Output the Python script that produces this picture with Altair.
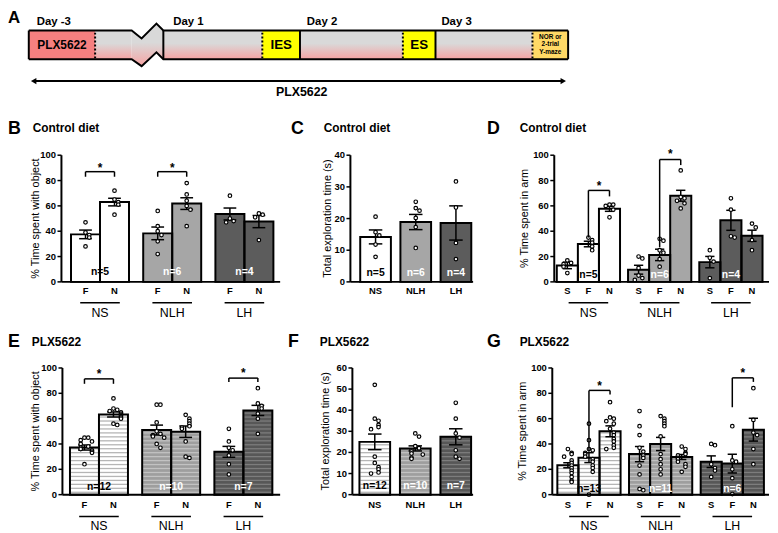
import altair as alt
import numpy as np
import pandas as pd

FONT = "Liberation Sans"
OX, OY = 8, 8          # page margin
W, H = 770, 525

# ------------------------------------------------------------------ data
groups = ["NS", "NLH", "LH"]
subs2 = ["F", "N"]
subs3 = ["S", "F", "N"]

B_means = [[37.5, 63.0], [38.3, 61.8], [53.6, 47.6]]
B_sems = [[3.4, 3.0], [5.0, 4.6], [4.7, 4.8]]
B_points = [[[47, 39, 37, 35, 28], [72, 65, 63, 61, 53]],
            [[56, 44, 40, 37, 32, 22], [78, 69, 64, 60, 57, 44]],
            [[68, 50, 48, 47], [54, 53, 51, 33]]]
B_n = ["n=5", "n=6", "n=4"]

C_means = [[14.2], [18.9], [18.6]]
C_sems = [[2.2], [2.4], [5.4]]
C_points = [[[20.6, 15.7, 14.7, 11.8, 7.9]],
            [[25.3, 23.3, 22.5, 20.2, 17.3, 10.7]],
            [[31.7, 23.5, 12.3, 7.2]]]

D_means = [[13.0, 29.9, 57.7], [9.6, 21.3, 68.0], [15.6, 48.6, 36.4]]
D_sems = [[2.6, 2.2, 2.0], [3.5, 4.5, 4.3], [4.5, 7.9, 4.4]]
D_points = [[[17, 15, 14, 12, 7], [35, 33, 31, 28, 25], [61, 61, 60, 57, 51]],
            [[20, 18.5, 11, 5, 3, 1.5], [34, 32.5, 25, 23, 18, 12], [88, 67, 66, 64, 62, 58]],
            [[25, 19, 16, 3], [66, 57, 36, 35], [46, 43, 33, 25]]]

E_means = [[37.2, 63.3], [51.0, 49.7], [33.8, 66.5]]
E_sems = [[2.0, 2.0], [3.9, 4.5], [4.3, 4.0]]
E_points = [[[45, 45, 43, 42, 40, 38, 37, 36, 35, 34, 33, 24],
             [76, 68, 67, 66, 65, 64, 63, 62, 61, 60, 56, 55]],
            [[71, 71, 57, 50, 48, 47, 46, 45, 40, 37],
             [63, 60, 58, 56, 54, 53, 52, 42, 30, 29]],
            [[52, 42, 37, 35, 31, 24, 16],
             [84, 72, 70, 68, 64, 60, 48]]]
E_n = ["n=12", "n=10", "n=7"]

F_means = [[25.0], [21.9], [27.4]]
F_sems = [[3.7], [1.2], [3.8]]
F_points = [[[52, 36, 35, 33, 32, 31, 18, 15, 13, 12, 10.5, 10]],
            [[29, 27.5, 23, 22, 21, 20.5, 19.5, 19, 17.5, 17]],
            [[43.5, 36, 29, 27, 21, 18, 17]]]

G_means = [[23.2, 29.2, 50.0], [32.0, 40.0, 29.7], [26.0, 24.5, 51.3]]
G_sems = [[2.0, 3.9, 4.3], [6.0, 5.2, 2.0], [4.6, 7.4, 9.0]]
G_points = [[[36, 33, 32, 30, 27, 25, 23, 21, 19, 17, 14, 11, 10],
             [56, 43, 36, 35, 33, 32, 30, 28, 26, 23, 21, 18, 0],
             [73, 61, 60, 58, 56, 52, 49, 47, 44, 42, 39, 37, 36]],
            [[66, 54, 47, 37, 34, 31, 29, 23, 16, 4.5, 3.5],
             [62, 60, 58, 56, 54, 46, 32, 28, 24, 20, 16],
             [38, 36, 33, 32, 31, 29, 28, 26, 24, 22, 18]],
            [[40, 39, 24, 21, 19, 14],
             [54, 27, 26, 20, 13, 0.5],
             [84, 59, 49, 47, 36, 24]]]
G_n = ["n=13", "n=11", "n=6"]

# significance brackets: (group, left sub, right sub, bar y, left leg end, right leg end, star y)
B_brackets = [(0, 0, 1, 87, 83, 83, 90), (1, 0, 1, 87, 83, 83, 90)]
D_brackets = [(0, 1, 2, 72.2, 35, 67.5, 76), (1, 1, 2, 96.6, 27.3, 92.2, 101)]
E_brackets = [(0, 0, 1, 91.4, 87.5, 87.5, 95), (2, 0, 1, 92, 89, 89, 96)]
G_brackets = [(0, 1, 2, 82.3, 34, 79, 86), (2, 1, 2, 92.2, 69, 89, 96)]

# ------------------------------------------------------------------ styles
plain_fill = ["#ffffff", "#a6a6a6", "#5c5c5c"]
hatch_fill = ["#ffffff", "#9e9e9e", "#575757"]
hatch_line = ["#b5b5b5", "#c2c2c2", "#7d7d7d"]
n_color = ["black", "white", "white"]


def jitter(vals, px_per_val, unit_px):
    seq = [0, 1, -1, 2, -2, 3, -3]
    placed, offs = [], []
    for v in vals:
        k = sum(1 for p in placed if abs(p - v) * px_per_val < 4.5)
        offs.append(seq[k % 7] * 3.8 / unit_px)
        placed.append(v)
    return offs


def panel(P):
    unit = P["unit"]
    xmax = (P["end_x"] - P["axis_x"]) / unit
    xs = alt.Scale(domain=[0, xmax], range=[P["axis_x"] - OX, P["end_x"] - OX], nice=False, zero=False)
    ymax = P["ymax"]
    ys = alt.Scale(domain=[0, ymax], range=[P["y0"] - OY, P["ytop"] - OY], nice=False, zero=False)
    ppv = (P["y0"] - P["ytop"]) / ymax
    subs = P["subs"]
    ns = len(subs)
    fills = hatch_fill if P["hatch"] else plain_fill

    bars, stripes, errs, pts, sublab, grp, nlab, brk, stars = [], [], [], [], [], [], [], [], []
    centers = {}
    for g, gname in enumerate(groups):
        gc = P["first"] + P["stride"] * g
        for s in range(ns):
            c = gc + (s - (ns - 1) / 2)
            centers[(g, s)] = c
            m = P["means"][g][s]
            e = P["sems"][g][s]
            bars.append(dict(lo=c - 0.5, hi=c + 0.5, m=m, base=0, fill=fills[g]))
            if P["hatch"]:
                step = 4.0 / ppv
                for yy in np.arange(step * 0.6, m - step * 0.25, step):
                    stripes.append(dict(lo=c - 0.47, hi=c + 0.47, y=yy, col=hatch_line[g]))
            errs.append(dict(c=c, lo=m - e, hi=m + e, cl=c - 0.22, cr=c + 0.22))
            vals = P["points"][g][s]
            for v, o in zip(vals, jitter(vals, ppv, unit)):
                pts.append(dict(x=c + o, v=v))
            if ns > 1:
                sublab.append(dict(x=c, y=0, t=subs[s]))
        if ns > 1:
            grp.append(dict(x=gc, lo=gc - 20 / unit, hi=gc + 20 / unit, y=0, t=gname))
        else:
            sublab.append(dict(x=gc, y=0, t=gname))
        nlab.append(dict(x=gc, y=P["n_px"] / ppv, t=P["n"][g], col=n_color[g]))
    for (g, sl, sr, yb, yl, yr, yst) in P["brackets"]:
        cl, cr = centers[(g, sl)], centers[(g, sr)]
        brk.append(dict(x=cl, x2=cr, y=yb, y2=yb))
        brk.append(dict(x=cl, x2=cl, y=yb, y2=yl))
        brk.append(dict(x=cr, x2=cr, y=yb, y2=yr))
        stars.append(dict(x=(cl + cr) / 2, y=yst))

    X = lambda f: alt.X(f, scale=xs, axis=None)
    Y = lambda f: alt.Y(f, scale=ys, axis=None)

    layers = []
    bdf = pd.DataFrame(bars)
    layers.append(alt.Chart(bdf).mark_rect(strokeWidth=0).encode(
        x=X("lo:Q"), x2="hi:Q", y=Y("m:Q"), y2="base:Q",
        color=alt.Color("fill:N", scale=None, legend=None)))
    if stripes:
        layers.append(alt.Chart(pd.DataFrame(stripes)).mark_rule(strokeWidth=1.3).encode(
            x=X("lo:Q"), x2="hi:Q", y=Y("y:Q"), color=alt.Color("col:N", scale=None, legend=None)))
    layers.append(alt.Chart(bdf).mark_rect(fillOpacity=0, stroke="black", strokeWidth=2).encode(
        x=X("lo:Q"), x2="hi:Q", y=Y("m:Q"), y2="base:Q"))
    edf = pd.DataFrame(errs)
    layers.append(alt.Chart(edf).mark_rule(color="black", strokeWidth=1.5).encode(
        x=X("c:Q"), y=Y("lo:Q"), y2="hi:Q"))
    layers.append(alt.Chart(edf).mark_rule(color="black", strokeWidth=1.5).encode(
        x=X("cl:Q"), x2="cr:Q", y=Y("hi:Q")))
    layers.append(alt.Chart(edf).mark_rule(color="black", strokeWidth=1.5).encode(
        x=X("cl:Q"), x2="cr:Q", y=Y("lo:Q")))
    layers.append(alt.Chart(pd.DataFrame(pts)).mark_point(
        shape="circle", size=13, filled=True, fill="white", stroke="black", strokeWidth=1.2, opacity=1).encode(
        x=X("x:Q"), y=Y("v:Q")))
    layers.append(alt.Chart(pd.DataFrame(nlab)).mark_text(
        font=FONT, fontSize=10.5, fontWeight="bold", baseline="middle").encode(
        x=X("x:Q"), y=Y("y:Q"), text="t:N", color=alt.Color("col:N", scale=None, legend=None)))

    # ---- y axis (domain, ticks, labels, title) drawn on the panel's own scales
    layers.append(alt.Chart(pd.DataFrame([dict(x=0, a=0, b=ymax)])).mark_rule(
        color="black", strokeWidth=2).encode(x=X("x:Q"), y=Y("a:Q"), y2="b:Q"))
    tdf = pd.DataFrame(dict(a=-4.0 / unit, b=0.0, y=P["ticks"], t=[str(v) for v in P["ticks"]]))
    layers.append(alt.Chart(tdf).mark_rule(color="black", strokeWidth=1.5).encode(
        x=X("a:Q"), x2="b:Q", y=Y("y:Q")))
    layers.append(alt.Chart(tdf).mark_text(
        font=FONT, fontSize=9.5, fontWeight="bold", align="right", baseline="middle", dx=-1.5,
        color="black").encode(x=X("a:Q"), y=Y("y:Q"), text="t:N"))
    layers.append(alt.Chart(pd.DataFrame([dict(x=-P["title_off"] / unit, y=ymax / 2, t=P["ytitle"])])).mark_text(
        font=FONT, fontSize=11, angle=270, baseline="middle", color="black").encode(
        x=X("x:Q"), y=Y("y:Q"), text="t:N"))

    # ---- x baseline and category labels
    layers.append(alt.Chart(pd.DataFrame([dict(a=0, b=xmax, y=0)])).mark_rule(
        color="black", strokeWidth=2).encode(x=X("a:Q"), x2="b:Q", y=Y("y:Q")))
    layers.append(alt.Chart(pd.DataFrame(sublab)).mark_text(
        font=FONT, fontSize=9.5, fontWeight="bold", baseline="middle", dy=P["lab_dy"],
        color="black").encode(x=X("x:Q"), y=Y("y:Q"), text="t:N"))
    if grp:
        gdf = pd.DataFrame(grp)
        layers.append(alt.Chart(gdf).mark_rule(color="black", strokeWidth=1.5, yOffset=P["ul_dy"]).encode(
            x=X("lo:Q"), x2="hi:Q", y=Y("y:Q")))
        layers.append(alt.Chart(gdf).mark_text(
            font=FONT, fontSize=12.5, baseline="middle", dy=P["gn_dy"], color="black").encode(
            x=X("x:Q"), y=Y("y:Q"), text="t:N"))
    if brk:
        layers.append(alt.Chart(pd.DataFrame(brk)).mark_rule(color="black", strokeWidth=1.5).encode(
            x=X("x:Q"), x2="x2:Q", y=Y("y:Q"), y2="y2:Q"))
        layers.append(alt.Chart(pd.DataFrame(stars)).mark_text(
            text="*", font=FONT, fontSize=12, fontWeight="bold", baseline="middle", color="black").encode(
            x=X("x:Q"), y=Y("y:Q")))
    return alt.layer(*layers)


top = dict(y0=282, ytop=154, lab_dy=9.5, ul_dy=21, gn_dy=31)
bot = dict(y0=497, ytop=369, lab_dy=10, ul_dy=22, gn_dy=32)

PB = dict(top, subs=subs2, means=B_means, sems=B_sems, points=B_points, n=B_n, hatch=False,
          ymax=100, ticks=[0, 20, 40, 60, 80, 100], ytitle="% Time spent with object", title_off=26,
          axis_x=62, end_x=283, unit=29.3, first=1.33, stride=2.49, n_px=10, brackets=B_brackets)
PC = dict(top, subs=[""], means=C_means, sems=C_sems, points=C_points, n=B_n, hatch=False,
          ymax=40, ticks=[0, 10, 20, 30, 40], ytitle="Total exploration time (s)", title_off=23,
          axis_x=354, end_x=478, unit=31, first=0.82, stride=1.31, n_px=9, brackets=[])
PD = dict(top, subs=subs3, means=D_means, sems=D_sems, points=D_points, n=B_n, hatch=False,
          ymax=100, ticks=[0, 20, 40, 60, 80, 100], ytitle="% Time spent in arm", title_off=29.5,
          axis_x=560, end_x=777, unit=21.3, first=1.62, stride=3.38, n_px=7, brackets=D_brackets)
PE = dict(bot, subs=subs2, means=E_means, sems=E_sems, points=E_points, n=E_n, hatch=True,
          ymax=100, ticks=[0, 20, 40, 60, 80, 100], ytitle="% Time spent with object", title_off=27,
          axis_x=63, end_x=283, unit=29.3, first=1.26, stride=2.49, n_px=8, brackets=E_brackets)
PF = dict(bot, subs=[""], means=F_means, sems=F_sems, points=F_points, n=E_n, hatch=True,
          ymax=60, ticks=[0, 10, 20, 30, 40, 50, 60], ytitle="Total exploration time (s)", title_off=27,
          axis_x=356, end_x=478, unit=31, first=0.73, stride=1.32, n_px=9, brackets=[])
PG = dict(bot, subs=subs3, means=G_means, sems=G_sems, points=G_points, n=G_n, hatch=True,
          ymax=100, ticks=[0, 20, 40, 60, 80, 100], ytitle="% Time spent in arm", title_off=29.5,
          axis_x=558, end_x=777, unit=21.3, first=1.74, stride=3.4, n_px=6, brackets=G_brackets)

# ------------------------------------------------------------------ panel A schematic
# x: % of protocol timeline, y: 0 = bottom of bar, 1 = top of bar
A_box_x0 = [0, 12.3, 24.95, 43.3, 50.28, 69.36, 75.41, 93.39]
A_box_x1 = [12.3, 19.08, 43.3, 50.28, 69.36, 75.41, 93.39, 100]
A_box_kind = ["#f58080", "gray", "gray", "#ffff00", "gray", "#ffff00", "gray", "#ffd966"]
A_zig_x = [19.08, 20.92, 23.67, 24.95]
A_zig_top = [1, 0.724, 1.241, 1]
A_zig_bot = [0, -0.241, 0.241, 0]
A_solid = [0, 24.95, 50.28, 75.41, 100]
A_dotted = [12.3, 43.3, 69.36, 93.39]
A_days = ["Day -3", "Day 1", "Day 2", "Day 3"]
A_day_x = [1.47, 26.8, 51.56, 76.5]

xA = alt.Scale(domain=[0, 100], range=[29 - OX, 574 - OX], nice=False, zero=False)
yA = alt.Scale(domain=[0, 1], range=[57 - OY, 28 - OY], nice=False, zero=False)
XA = lambda f: alt.X(f, scale=xA, axis=None)
YA = lambda f: alt.Y(f, scale=yA, axis=None)

grad = alt.LinearGradient(gradient="linear", x1=0, x2=0, y1=0, y2=1,
                          stops=[alt.GradientStop(color="#d9d9d9", offset=0),
                                 alt.GradientStop(color="#d9d9d9", offset=0.45),
                                 alt.GradientStop(color="#f6a3a3", offset=1)])
boxes = pd.DataFrame(dict(x0=A_box_x0, x1=A_box_x1, k=A_box_kind, b=0, t=1))
A_layers = [
    alt.Chart(boxes[boxes.k == "gray"]).mark_rect(fill=grad, strokeWidth=0).encode(
        x=XA("x0:Q"), x2="x1:Q", y=YA("b:Q"), y2="t:Q"),
    alt.Chart(boxes[boxes.k != "gray"]).mark_rect(strokeWidth=0).encode(
        x=XA("x0:Q"), x2="x1:Q", y=YA("b:Q"), y2="t:Q", color=alt.Color("k:N", scale=None, legend=None)),
    alt.Chart(pd.DataFrame(dict(x=A_zig_x, t=A_zig_top, b=A_zig_bot))).mark_area(fill=grad, interpolate="linear").encode(
        x=XA("x:Q"), y=YA("t:Q"), y2="b:Q"),
]
edge_rows = []
for i, (xx, yy) in enumerate(zip([0] + A_zig_x + [100], [1] + A_zig_top + [1])):
    edge_rows.append(dict(e="top", i=i, x=xx, y=yy))
for i, (xx, yy) in enumerate(zip([0] + A_zig_x + [100], [0] + A_zig_bot + [0])):
    edge_rows.append(dict(e="bot", i=i, x=xx, y=yy))
A_layers.append(alt.Chart(pd.DataFrame(edge_rows)).mark_line(color="black", strokeWidth=2).encode(
    x=XA("x:Q"), y=YA("y:Q"), detail="e:N", order="i:Q"))
A_layers.append(alt.Chart(pd.DataFrame(dict(x=A_solid, b=0, t=1))).mark_rule(color="black", strokeWidth=2).encode(
    x=XA("x:Q"), y=YA("b:Q"), y2="t:Q"))
A_layers.append(alt.Chart(pd.DataFrame(dict(x=A_dotted, b=0.03, t=0.97))).mark_rule(
    color="black", strokeWidth=2, strokeDash=[2, 2]).encode(x=XA("x:Q"), y=YA("b:Q"), y2="t:Q"))
A_layers.append(alt.Chart(pd.DataFrame(dict(x=A_day_x, y=1.28, t=A_days))).mark_text(
    font=FONT, fontSize=11.5, fontWeight="bold", align="left", baseline="middle", color="black").encode(
    x=XA("x:Q"), y=YA("y:Q"), text="t:N"))
A_layers.append(alt.Chart(pd.DataFrame(dict(x=[6.15, 46.8, 72.4], y=0.5, t=["PLX5622", "IES", "ES"],
                                            s=[12, 13.5, 13.5]))).mark_text(
    font=FONT, fontWeight="bold", baseline="middle", color="black").encode(
    x=XA("x:Q"), y=YA("y:Q"), text="t:N", size=alt.Size("s:Q", scale=None, legend=None)))
A_layers.append(alt.Chart(pd.DataFrame(dict(x=96.7, y=[0.79, 0.52, 0.25], t=["NOR or", "2-trial", "Y-maze"]))).mark_text(
    font=FONT, fontSize=6.5, fontWeight="bold", baseline="middle", color="black").encode(
    x=XA("x:Q"), y=YA("y:Q"), text="t:N"))
A_layers.append(alt.Chart(pd.DataFrame([dict(a=0.8, b=99.2, y=-0.76)])).mark_rule(color="black", strokeWidth=2).encode(
    x=XA("a:Q"), x2="b:Q", y=YA("y:Q")))
A_layers.append(alt.Chart(pd.DataFrame(dict(x=[0.9, 99.1], y=-0.76, s=["triangle-left", "triangle-right"]))).mark_point(
    filled=True, color="black", size=40, opacity=1).encode(
    x=XA("x:Q"), y=YA("y:Q"), shape=alt.Shape("s:N", scale=None, legend=None)))
A_layers.append(alt.Chart(pd.DataFrame([dict(x=50.6, y=-1.14, t="PLX5622")])).mark_text(
    font=FONT, fontSize=12.5, fontWeight="bold", baseline="middle", color="black").encode(
    x=XA("x:Q"), y=YA("y:Q"), text="t:N"))
panelA = alt.layer(*A_layers)

# ------------------------------------------------------------------ letters & titles
def label(t, x, y, size, align="left"):
    return alt.Chart(pd.DataFrame([dict(t=t)])).mark_text(
        font=FONT, fontSize=size, fontWeight="bold", align=align, baseline="middle", color="black").encode(
        x=alt.value(x - OX), y=alt.value(y - OY), text="t:N")

annots = [
    label("A", 8, 15, 17),
    label("B", 8, 128, 18), label("C", 294, 128, 18), label("D", 492, 128, 18),
    label("E", 8, 343, 18), label("F", 291, 343, 18), label("G", 492, 343, 18),
    label("Control diet", 33, 127, 12), label("Control diet", 327, 127, 12), label("Control diet", 525, 127, 12),
    label("PLX5622", 32, 343, 12), label("PLX5622", 323, 343, 12), label("PLX5622", 525, 343, 12),
]

chart = alt.layer(panelA, panel(PB), panel(PC), panel(PD), panel(PE), panel(PF), panel(PG), *annots).resolve_scale(
    x="independent", y="independent").properties(
    width=W, height=H, autosize=alt.AutoSizeParams(type="none"), padding=0).configure_view(stroke=None)

chart.save("out.html", embed_options={"renderer": "svg", "actions": False})
